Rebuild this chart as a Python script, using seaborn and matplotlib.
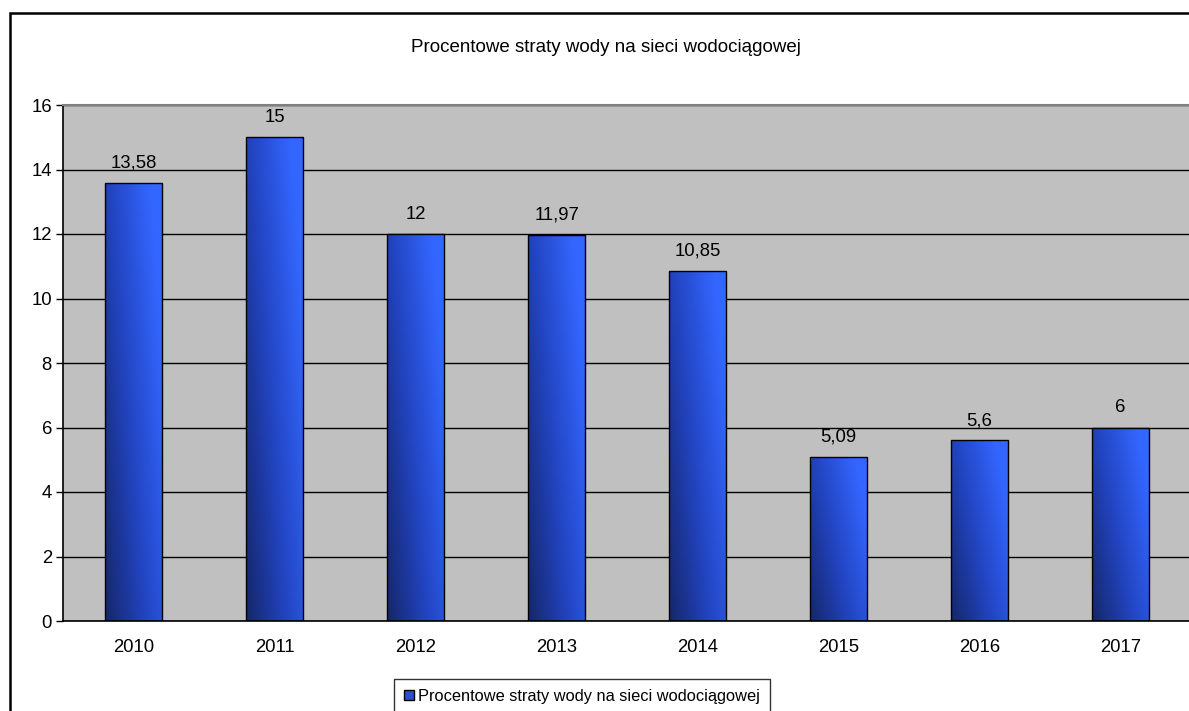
import numpy as np
import matplotlib
matplotlib.use('Agg')
import matplotlib.pyplot as plt
import matplotlib.patches as mpatches
from matplotlib.colors import LinearSegmentedColormap
from matplotlib.ticker import MultipleLocator, FixedLocator
import seaborn as sns

sns.set_style('white')
plt.rcParams['font.family'] = ['Liberation Sans', 'DejaVu Sans']
plt.rcParams['text.color'] = 'black'
plt.rcParams['xtick.color'] = 'black'
plt.rcParams['ytick.color'] = 'black'

# dane
lata = ['2010', '2011', '2012', '2013', '2014', '2015', '2016', '2017']
straty = [13.58, 15, 12, 11.97, 10.85, 5.09, 5.6, 6]
etykiety = ['13,58', '15', '12', '11,97', '10,85', '5,09', '5,6', '6']
tytul = 'Procentowe straty wody na sieci wodociągowej'

FS = 13.3
W, H = 1189, 711
fig = plt.figure(figsize=(W / 100, H / 100), dpi=100)
ax = fig.add_axes([63 / W, 90 / H, 1128 / W, 516 / H])
ax.set_facecolor('#c0c0c0')

sns.barplot(x=lata, y=straty, width=0.4, color='#2a4fd0', edgecolor='black',
            linewidth=1, ax=ax, zorder=3)

# gradient w slupkach (ciemny dol-lewo -> jasny gora-prawo)
cmap = LinearSegmentedColormap.from_list('blu', ['#15276a', '#2244c0', '#3366ff'])
xx, yy = np.meshgrid(np.linspace(0, 1, 60), np.linspace(0, 1, 200))
grad = np.clip(0.7 * xx + 0.45 * yy, 0, 1)
for p in ax.patches:
    x0, y0 = p.get_x(), p.get_y()
    w, h = p.get_width(), p.get_height()
    im = ax.imshow(grad, cmap=cmap, origin='lower', extent=[x0, x0 + w, y0, y0 + h],
                   aspect='auto', zorder=2.5, vmin=0, vmax=1)
    im.set_clip_path(p)
    p.set_facecolor('none')

for i, (v, t) in enumerate(zip(straty, etykiety)):
    ax.text(i, v + 0.35, t, ha='center', va='bottom', fontsize=FS, zorder=4)

ax.set_xlim(-0.5, 7.5)
ax.set_ylim(0, 16)
ax.yaxis.set_major_locator(MultipleLocator(2))
ax.grid(axis='y', color='black', linewidth=1, zorder=1)
ax.set_axisbelow(True)
ax.xaxis.set_major_locator(FixedLocator(range(8)))
ax.set_xticklabels(lata)
ax.xaxis.set_minor_locator(FixedLocator(np.arange(-0.5, 8, 1)))
ax.tick_params(axis='x', which='major', length=0, labelsize=FS, pad=13)
ax.tick_params(axis='x', which='minor', length=5, width=1, color='black', direction='out')
ax.tick_params(axis='y', length=5, width=1, color='black', direction='out', labelsize=FS, pad=3, left=True)
ax.set_xlabel('')
ax.set_ylabel('')

for s in ['left', 'bottom']:
    ax.spines[s].set_color('black')
    ax.spines[s].set_linewidth(1.2)
ax.spines['top'].set_color('#808080')
ax.spines['top'].set_linewidth(1.5)
ax.spines['right'].set_visible(False)

fig.text(606 / W, 1 - 47 / H, tytul, ha='center', va='center', fontsize=13.5)

# ramka wykresu
ramka = mpatches.Rectangle((10 / W, -0.1), 1.2, 1 - 13 / H + 0.1, transform=fig.transFigure,
                           fill=False, edgecolor='black', linewidth=1.8, clip_on=False)
fig.add_artist(ramka)

uchwyt = mpatches.Patch(facecolor='#2a4fd0', edgecolor='black', linewidth=1, label=tytul)
leg = fig.legend(handles=[uchwyt], loc='upper center', bbox_to_anchor=(582 / W, 1 - 679 / H),
                 frameon=True, fancybox=False, shadow=False, fontsize=11.8,
                 handlelength=0.6, handleheight=0.6, handletextpad=0.3, borderpad=0.6,
                 borderaxespad=0)
leg.get_frame().set_edgecolor('black')
leg.get_frame().set_linewidth(1)

fig.savefig('out.png', dpi=100)
